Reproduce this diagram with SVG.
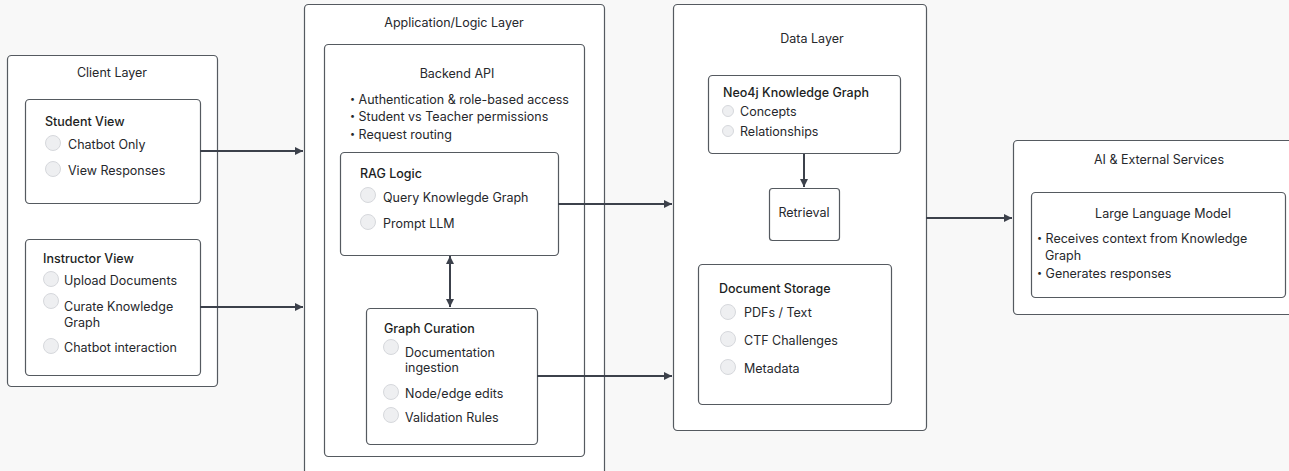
<svg xmlns="http://www.w3.org/2000/svg" width="1289" height="471" viewBox="0 0 1289 471">
<style>
  .bg{fill:#f8f8f8}
  .box{fill:#ffffff;stroke:#555a60;stroke-width:1.2}
  .t{font-family:Inter,"Liberation Sans",sans-serif;font-size:12.5px;fill:#26282c}
  .h{font-family:Inter,"Liberation Sans",sans-serif;font-size:12.5px;font-weight:500;fill:#1c1e22}
  .c{text-anchor:middle}
  .b{font-size:9px}
  .dot{fill:#eeeff1;stroke:#d6d8dc;stroke-width:1}
  .edge{stroke:#3c414b;stroke-width:2;fill:none}
</style>
<defs>
  <marker id="ah2" viewBox="0 0 10 10" refX="10" refY="5" markerWidth="12" markerHeight="8" markerUnits="userSpaceOnUse" orient="auto-start-reverse">
    <path d="M0,0 L10,5 L0,10 z" fill="#3c414b"/>
  </marker>
</defs>
<rect class="bg" x="0" y="0" width="1289" height="471"/>

<g id="client-layer">
  <rect class="box" x="7.5" y="55.5" width="210" height="331" rx="4"/>
  <text class="t c" x="112" y="77">Client Layer</text>
</g>
<g id="student-view">
  <rect class="box" x="25.5" y="99.5" width="175" height="104" rx="4"/>
  <text class="h" x="45" y="126">Student View</text>
  <circle class="dot" cx="53" cy="143" r="7.5"/>
  <text class="t" x="68" y="149">Chatbot Only</text>
  <circle class="dot" cx="53" cy="169" r="7.5"/>
  <text class="t" x="68" y="175">View Responses</text>
</g>
<g id="instructor-view">
  <rect class="box" x="25.5" y="239.5" width="175" height="136" rx="4"/>
  <text class="h" x="43" y="263">Instructor View</text>
  <circle class="dot" cx="51" cy="279" r="7.5"/>
  <text class="t" x="64" y="285">Upload Documents</text>
  <circle class="dot" cx="51" cy="301" r="7.5"/>
  <text class="t" x="64" y="311">Curate Knowledge</text>
  <text class="t" x="64" y="327">Graph</text>
  <circle class="dot" cx="51" cy="346" r="7.5"/>
  <text class="t" x="64" y="352">Chatbot interaction</text>
</g>

<g id="app-layer">
  <rect class="box" x="304.5" y="4.5" width="300" height="475" rx="4"/>
  <text class="t c" x="454" y="27">Application/Logic Layer</text>
</g>
<g id="backend-api">
  <rect class="box" x="324.5" y="44.5" width="260" height="412" rx="4"/>
  <text class="t c" x="457" y="78">Backend API</text>
  <text class="t" x="350" y="104"><tspan class="b" dy="-2">•</tspan><tspan dy="2"> Authentication &amp; role-based access</tspan></text>
  <text class="t" x="350" y="121"><tspan class="b" dy="-2">•</tspan><tspan dy="2"> Student vs Teacher permissions</tspan></text>
  <text class="t" x="350" y="139"><tspan class="b" dy="-2">•</tspan><tspan dy="2"> Request routing</tspan></text>
</g>
<g id="rag-logic">
  <rect class="box" x="340.5" y="152.5" width="218" height="103" rx="4"/>
  <text class="h" x="360" y="178">RAG Logic</text>
  <circle class="dot" cx="368" cy="195" r="7.5"/>
  <text class="t" x="383" y="202">Query Knowlegde Graph</text>
  <circle class="dot" cx="368" cy="222" r="7.5"/>
  <text class="t" x="383" y="228">Prompt LLM</text>
</g>
<g id="graph-curation">
  <rect class="box" x="366.5" y="308.5" width="171" height="136" rx="4"/>
  <text class="h" x="384" y="333">Graph Curation</text>
  <circle class="dot" cx="391" cy="347" r="7.5"/>
  <text class="t" x="405" y="357">Documentation</text>
  <text class="t" x="405" y="372">ingestion</text>
  <circle class="dot" cx="391" cy="392" r="7.5"/>
  <text class="t" x="405" y="398">Node/edge edits</text>
  <circle class="dot" cx="391" cy="415" r="7.5"/>
  <text class="t" x="405" y="422">Validation Rules</text>
</g>

<g id="data-layer">
  <rect class="box" x="673.5" y="4.5" width="253" height="426" rx="4"/>
  <text class="t c" x="812" y="43">Data Layer</text>
</g>
<g id="neo4j">
  <rect class="box" x="708.5" y="75.5" width="192" height="78" rx="4"/>
  <text class="h" x="723" y="97">Neo4j Knowledge Graph</text>
  <circle class="dot" cx="728" cy="111" r="5.5"/>
  <text class="t" x="740" y="116">Concepts</text>
  <circle class="dot" cx="728" cy="131" r="5.5"/>
  <text class="t" x="740" y="136">Relationships</text>
</g>
<g id="retrieval">
  <rect class="box" x="769.5" y="188.5" width="70" height="52" rx="3"/>
  <text class="t c" x="804" y="217">Retrieval</text>
</g>
<g id="document-storage">
  <rect class="box" x="698.5" y="264.5" width="193" height="140" rx="4"/>
  <text class="h" x="719" y="293">Document Storage</text>
  <circle class="dot" cx="728" cy="312" r="7.5"/>
  <text class="t" x="744" y="317">PDFs / Text</text>
  <circle class="dot" cx="728" cy="339" r="7.5"/>
  <text class="t" x="744" y="345">CTF Challenges</text>
  <circle class="dot" cx="728" cy="367" r="7.5"/>
  <text class="t" x="744" y="373">Metadata</text>
</g>

<g id="ai-services">
  <rect class="box" x="1013.5" y="140.5" width="285" height="174" rx="4"/>
  <text class="t c" x="1159" y="164">AI &amp; External Services</text>
</g>
<g id="llm">
  <rect class="box" x="1031.5" y="192.5" width="254" height="105" rx="4"/>
  <text class="t c" x="1163" y="218">Large Language Model</text>
  <text class="t" x="1037" y="243"><tspan class="b" dy="-2">•</tspan><tspan dy="2"> Receives context from Knowledge</tspan></text>
  <text class="t" x="1045" y="260">Graph</text>
  <text class="t" x="1037" y="278"><tspan class="b" dy="-2">•</tspan><tspan dy="2"> Generates responses</tspan></text>
</g>

<g id="connectors">
  <line class="edge" x1="200" y1="151" x2="303" y2="151" marker-end="url(#ah2)"/>
  <line class="edge" x1="200" y1="307" x2="303" y2="307" marker-end="url(#ah2)"/>
  <line class="edge" x1="558" y1="204" x2="672" y2="204" marker-end="url(#ah2)"/>
  <line class="edge" x1="537" y1="376" x2="672" y2="376" marker-end="url(#ah2)"/>
  <line class="edge" x1="926" y1="218" x2="1012" y2="218" marker-end="url(#ah2)"/>
  <line class="edge" x1="804" y1="154" x2="804" y2="187" marker-end="url(#ah2)"/>
  <line class="edge" x1="450" y1="256" x2="450" y2="307" stroke-width="3" marker-start="url(#ah2)" marker-end="url(#ah2)"/>
</g>
</svg>
